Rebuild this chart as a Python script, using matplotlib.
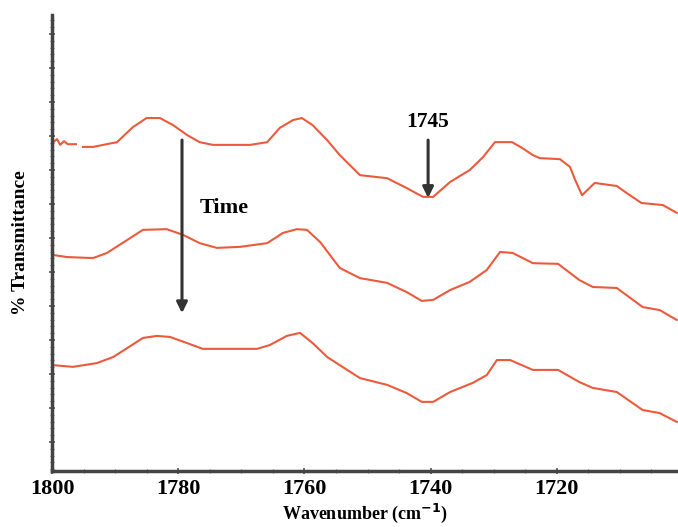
import numpy as np
import matplotlib
matplotlib.use("Agg")
import matplotlib.pyplot as plt
from matplotlib.ticker import MultipleLocator

# wavenumber (cm-1) / transmittance (arb. units, offset traces)
wn_top = [1799.8, 1799.2, 1798.7, 1798.1, 1797.5, 1796.2, np.nan, 1795.1, 1793.5, 1789.7,
          1787.2, 1785.0, 1782.9, 1780.8, 1778.6, 1776.6, 1774.5, 1768.6, 1765.9, 1763.9,
          1761.8, 1760.4, 1758.7, 1756.4, 1754.4, 1751.2, 1746.9, 1743.8, 1741.2, 1739.6,
          1736.9, 1733.8, 1731.7, 1729.8, 1727.1, 1725.5, 1723.8, 1722.7, 1719.5, 1717.9,
          1717.1, 1716.0, 1714.0, 1710.5, 1708.9, 1706.6, 1703.2, 1701.0]
t_top = [8.82, 8.91, 8.74, 8.85, 8.76, 8.76, np.nan, 8.68, 8.68, 8.82,
         9.26, 9.53, 9.53, 9.32, 9.03, 8.82, 8.74, 8.74, 8.82, 9.24,
         9.47, 9.53, 9.32, 8.88, 8.44, 7.85, 7.76, 7.47, 7.21, 7.21,
         7.65, 8.00, 8.38, 8.82, 8.82, 8.65, 8.44, 8.35, 8.32, 8.09,
         7.71, 7.26, 7.62, 7.53, 7.32, 7.03, 6.97, 6.74]

wn_mid = [1799.8, 1797.6, 1793.5, 1791.3, 1788.1, 1785.6, 1781.8, 1779.2, 1776.6, 1773.9,
          1770.2, 1765.9, 1763.4, 1761.2, 1759.6, 1757.5, 1754.4, 1751.2, 1746.9, 1743.8,
          1741.4, 1739.6, 1736.9, 1733.8, 1731.1, 1729.0, 1727.0, 1723.8, 1719.8, 1716.4,
          1714.3, 1710.5, 1706.4, 1703.7, 1701.0]
t_mid = [5.50, 5.44, 5.41, 5.56, 5.94, 6.24, 6.26, 6.09, 5.85, 5.71,
         5.74, 5.85, 6.15, 6.26, 6.24, 5.88, 5.12, 4.82, 4.68, 4.41,
         4.15, 4.18, 4.47, 4.71, 5.06, 5.59, 5.56, 5.26, 5.24, 4.76,
         4.56, 4.53, 3.97, 3.88, 3.59]

wn_bot = [1799.8, 1796.7, 1792.9, 1790.3, 1788.1, 1785.6, 1783.4, 1781.3, 1778.6, 1776.1,
          1767.5, 1765.5, 1762.8, 1760.7, 1758.7, 1756.4, 1754.4, 1751.2, 1746.9, 1743.8,
          1741.4, 1739.6, 1736.9, 1733.3, 1731.1, 1729.5, 1727.4, 1723.8, 1719.8, 1716.4,
          1714.3, 1710.5, 1706.4, 1703.7, 1701.0]
t_bot = [2.26, 2.21, 2.32, 2.50, 2.76, 3.06, 3.12, 3.09, 2.91, 2.74,
         2.74, 2.85, 3.12, 3.21, 2.91, 2.50, 2.26, 1.88, 1.68, 1.44,
         1.18, 1.18, 1.47, 1.74, 1.97, 2.41, 2.41, 2.12, 2.12, 1.76,
         1.59, 1.47, 0.94, 0.85, 0.59]

xticks = [1800, 1780, 1760, 1740, 1720]
peak_label = "1745"

plt.rcParams['font.family'] = ['Liberation Serif', 'DejaVu Serif']
plt.rcParams['font.weight'] = 'bold'

fig = plt.figure(figsize=(6.78, 5.27), dpi=100)
ax = fig.add_axes([0.0767, 0.1063, 0.9233, 0.8652])

red = '#ec5a3c'
for wn, t in [(wn_top, t_top), (wn_mid, t_mid), (wn_bot, t_bot)]:
    ax.plot(wn, t, color=red, lw=1.5)

ax.set_xlim(1800, 1700.8)
ax.set_ylim(-0.853, 12.56)
ax.set_xticks(xticks)
ax.set_xticklabels([str(v) for v in xticks], fontsize=16, fontweight='bold')
ax.xaxis.set_minor_locator(MultipleLocator(5))
ax.yaxis.set_major_locator(MultipleLocator(1))
ax.yaxis.set_minor_locator(MultipleLocator(0.2))
ax.set_yticklabels([])

for s in ['top', 'right']:
    ax.spines[s].set_visible(False)
for s in ['left', 'bottom']:
    ax.spines[s].set_linewidth(2.5)
    ax.spines[s].set_color('#444444')
ax.tick_params(axis='both', which='major', direction='inout', length=5, width=1.2, color='#555555')
ax.tick_params(axis='both', which='minor', direction='inout', length=3, width=0.8, color='#777777')
ax.tick_params(axis='x', pad=3)

ax.set_xlabel('Wavenumber (cm$^{\\mathbf{-1}}$)', fontsize=13, fontweight='bold', va='center')
ax.xaxis.set_label_coords(0.5, -0.093)
ax.set_ylabel('% Transmittance', fontsize=14, fontweight='bold', va='center')
ax.yaxis.set_label_coords(-0.05, 0.5)

arrow = dict(arrowstyle='-|>', lw=2.2, color='#333333', mutation_scale=16, shrinkA=0, shrinkB=0)
ax.annotate('', xy=(1779.4, 3.79), xytext=(1779.4, 8.88), arrowprops=arrow)
ax.text(1776.6, 6.88, 'Time', fontsize=16, fontweight='bold', va='center', ha='left')
ax.annotate('', xy=(1740.4, 7.18), xytext=(1740.4, 8.88), arrowprops=arrow)
ax.text(1740.4, 9.41, peak_label, fontsize=15.5, fontweight='bold', va='center', ha='center')

fig.savefig('out.png', dpi=100)
